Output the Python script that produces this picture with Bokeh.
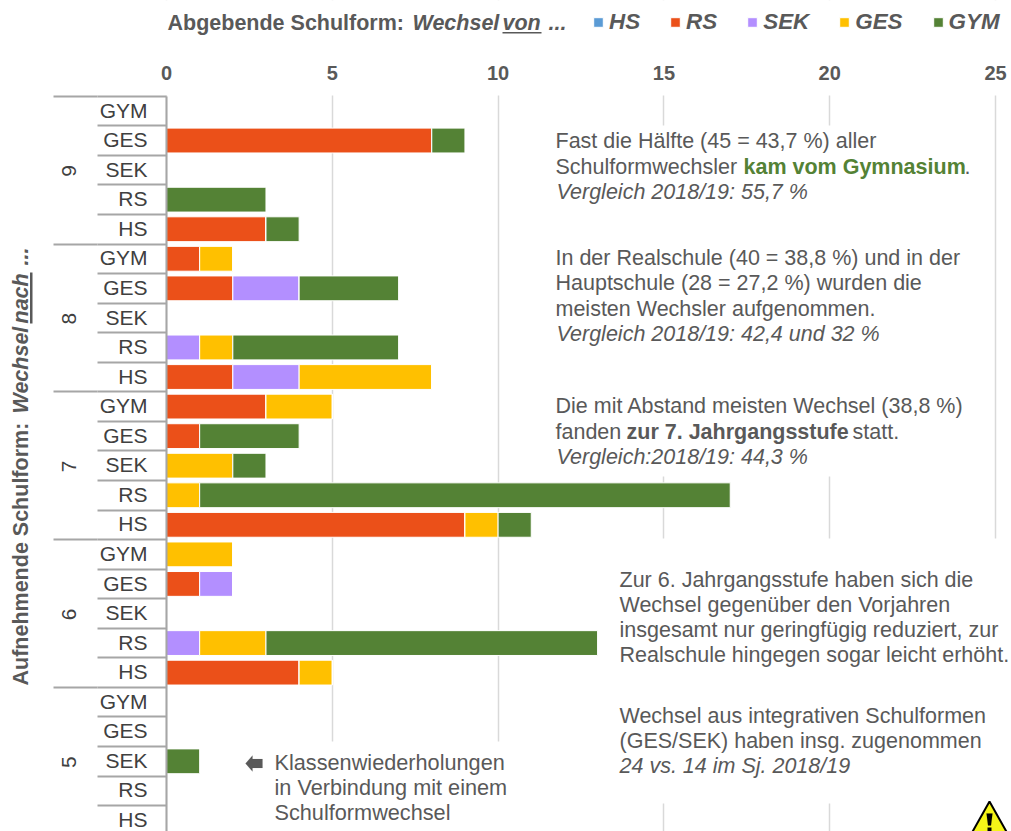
from bokeh.plotting import figure
from bokeh.models import (ColumnDataSource, Range1d, FixedTicker, LinearAxis, Label,
                          BoxAnnotation, PolyAnnotation)
from bokeh.embed import file_html
from bokeh.resources import INLINE
import math

grades = ["9", "8", "7", "6", "5"]
forms = ["GYM", "GES", "SEK", "RS", "HS"]
series = ["HS", "RS", "SEK", "GES", "GYM"]
colors = ["#5B9BD5", "#EB5019", "#B38FFF", "#FFC000", "#548235"]
x_ticks = [0, 5, 10, 15, 20, 25]

# rows top to bottom: 9 GYM,GES,SEK,RS,HS / 8 ... / 7 ... / 6 ... / 5 ...
HS = [0]*25
RS = [0,8,0,0,3,  1,2,0,0,2,  3,1,0,0,9,  0,1,0,0,4,  0,0,0,0,0]
SEK = [0,0,0,0,0, 0,2,0,1,2,  0,0,0,0,0,  0,1,0,1,0,  0,0,0,0,0]
GES = [0,0,0,0,0, 1,0,0,1,4,  2,0,2,1,1,  2,0,0,2,1,  0,0,0,0,0]
GYM = [0,1,0,3,1, 0,3,0,5,0,  0,3,1,16,1, 0,0,0,10,0, 0,0,1,0,0]

TEXT = "#595959"
DARK = "#404040"
FONT = "Liberation Sans"
AXIS = "#A6A6A6"
FS = "21.5px"

W, H = 1011, 831
X0 = 166.0           # page px of value 0
UNIT = (995 - 166) / 25
Y0 = 95.7            # page px of top row edge
ROW = 29.56
n = len(grades) * len(forms)

row_centers = [i + 0.5 for i in range(n)]
row_edges = list(range(n + 1))
group_edges = [i * 5 for i in range(6)]
# label ticks, nudged to sit the text where the reference has it
row_label_ticks = [round(i + 0.47, 3) for i in range(n)]
group_label_ticks = [round(i * 5 + 2.33, 3) for i in range(5)]

p = figure(width=W, height=H, output_backend="svg", toolbar_location=None,
           x_range=Range1d(-X0 / UNIT, (W - X0) / UNIT),
           y_range=Range1d((H - Y0) / ROW, -Y0 / ROW),
           x_axis_location=None, y_axis_location=None,
           min_border_left=0, min_border_right=0, min_border_top=0, min_border_bottom=0)
p.outline_line_color = None
p.background_fill_color = "white"

p.ygrid.visible = False
p.xgrid.ticker = FixedTicker(ticks=x_ticks)
p.xgrid.grid_line_color = "#D9D9D9"
p.xgrid.grid_line_width = 1.5

src = ColumnDataSource(dict(y=row_centers, HS=HS, RS=RS, SEK=SEK, GES=GES, GYM=GYM))
p.hbar_stack(series, y="y", height=0.84, color=colors, line_color="white", line_width=1,
             source=src, legend_label=series)

# x axis
xa = LinearAxis(ticker=FixedTicker(ticks=x_ticks), fixed_location=0)
xa.axis_line_color = None
xa.major_tick_line_color = None
xa.minor_tick_line_color = None
xa.major_label_text_font = FONT
xa.major_label_text_font_size = "20px"
xa.major_label_text_font_style = "bold"
xa.major_label_text_color = TEXT
xa.major_label_standoff = 10
p.add_layout(xa, "above")

# inner y axis: school forms
ya = LinearAxis(ticker=FixedTicker(ticks=row_label_ticks, minor_ticks=row_edges), fixed_location=0,
                bounds=(0, n))
ya.major_label_overrides = {c: forms[i % 5] for i, c in enumerate(row_label_ticks)}
ya.major_tick_out = 0
ya.major_tick_in = 0
ya.major_tick_line_color = None
ya.minor_tick_out = 69
ya.minor_tick_in = 0
ya.minor_tick_line_color = AXIS
ya.minor_tick_line_width = 2
ya.axis_line_color = AXIS
ya.axis_line_width = 2
ya.major_label_text_font = FONT
ya.major_label_text_font_size = "21px"
ya.major_label_text_color = DARK
ya.major_label_standoff = -50
p.add_layout(ya, "left")

# outer y axis: grades
yb = LinearAxis(ticker=FixedTicker(ticks=group_label_ticks, minor_ticks=group_edges),
                fixed_location=-69 / UNIT, bounds=(0, n))
yb.major_label_overrides = {c: grades[i] for i, c in enumerate(group_label_ticks)}
yb.major_tick_out = 0
yb.major_tick_in = 0
yb.major_tick_line_color = None
yb.minor_tick_out = 44
yb.minor_tick_in = 0
yb.minor_tick_line_color = AXIS
yb.minor_tick_line_width = 2
yb.axis_line_color = None
yb.major_label_orientation = math.pi / 2
yb.major_label_text_font = FONT
yb.major_label_text_font_size = "21px"
yb.major_label_text_color = DARK
yb.major_label_standoff = -16
p.add_layout(yb, "left")


def sy(y):
    return H - y


def box(l, t, r, b, color="white", level="underlay"):
    p.add_layout(BoxAnnotation(left=l, right=r, top=sy(t), bottom=sy(b),
                               left_units="screen", right_units="screen",
                               top_units="screen", bottom_units="screen",
                               fill_color=color, fill_alpha=1, line_alpha=0, line_width=0,
                               level=level))


def poly(pts, fill, line=None, lw=0):
    p.add_layout(PolyAnnotation(xs=[a for a, _ in pts], ys=[sy(b) for _, b in pts],
                                xs_units="screen", ys_units="screen",
                                fill_color=fill, fill_alpha=1,
                                line_color=line if line else fill, line_width=lw or 0.1, line_alpha=1))


def label(x, y, text, style="normal", color=TEXT, size=FS, angle=0.0, baseline="middle"):
    p.add_layout(Label(x=x, y=sy(y), x_units="screen", y_units="screen", text=text,
                       text_font=FONT, text_font_size=size, text_font_style=style,
                       text_color=color, text_baseline=baseline, text_align="left",
                       angle=angle, angle_units="rad"))


# white backgrounds hiding the gridlines
box(0, 0, W, 95)
box(545, 125, 985, 476)
box(605, 538, W, 803)
box(240, 741, 525, H)
box(968, 800, W, H)

# title and legend
label(167, 22, "Abgebende Schulform:", "bold")
label(412, 22, "Wechsel", "bold italic")
label(502, 22, "von", "bold italic")
box(502, 31.5, 541, 33, TEXT, "annotation")
label(548, 22, "...", "bold italic")

leg = p.legend[0]
leg.orientation = "horizontal"
leg.location = (592, sy(35))
leg.background_fill_alpha = 0
leg.border_line_color = None
leg.padding = 0
leg.margin = 0
leg.spacing = 29
leg.glyph_width = 12
leg.glyph_height = 12
leg.label_standoff = 5
leg.label_text_font = FONT
leg.label_text_font_size = "22.4px"
leg.label_text_font_style = "bold italic"
leg.label_text_color = TEXT

# y title
R = math.pi / 2
label(20, 685, "Aufnehmende Schulform:", "bold", angle=R, baseline="alphabetic")
label(20, 413, "Wechsel", "bold italic", angle=R, baseline="alphabetic")
label(20, 323, "nach", "bold italic", angle=R, baseline="alphabetic")
box(29.5, 272, 32, 323, TEXT, "annotation")
label(20, 265, "...", "bold italic", angle=R, baseline="alphabetic")

# notes
GREEN = "#548235"
label(555, 140, "Fast die Hälfte (45 = 43,7 %) aller")
label(555, 166, "Schulformwechsler")
label(743, 166, "kam vom Gymnasium", "bold", GREEN)
label(964, 166, ".")
label(556, 191, "Vergleich 2018/19: 55,7 %", "italic")

label(555, 257, "In der Realschule (40 = 38,8 %) und in der")
label(555, 282, "Hauptschule (28 = 27,2 %) wurden die")
label(555, 308, "meisten Wechsler aufgenommen.")
label(556, 333, "Vergleich 2018/19: 42,4 und 32 %", "italic")

label(555, 405, "Die mit Abstand meisten Wechsel (38,8 %)")
label(555, 431, "fanden")
label(626, 431, "zur 7. Jahrgangsstufe", "bold")
label(852, 431, "statt.")
label(556, 456, "Vergleich:2018/19: 44,3 %", "italic")

label(619, 579, "Zur 6. Jahrgangsstufe haben sich die")
label(619, 604, "Wechsel gegenüber den Vorjahren")
label(619, 629, "insgesamt nur geringfügig reduziert, zur")
label(619, 654, "Realschule hingegen sogar leicht erhöht.")

label(619, 715, "Wechsel aus integrativen Schulformen")
label(619, 740, "(GES/SEK) haben insg. zugenommen")
label(619, 765, "24 vs. 14 im Sj. 2018/19", "italic")

label(274, 762, "Klassenwiederholungen", size="21.7px")
label(274, 787, "in Verbindung mit einem", size="21.7px")
label(274, 812, "Schulformwechsel", size="21.7px")

# arrow
poly([(245, 763), (252, 755), (252, 758.5), (262, 758.5), (262, 767.5), (252, 767.5), (252, 771)], TEXT)

# warning sign
poly([(989, 801), (1007, 833), (971, 833)], "#F5F518", "#000000", 2)
poly([(986, 813), (992, 813), (990.5, 825), (987.5, 825)], "#000000")
box(987, 827, 991, 831, "#000000", "annotation")

open("out.html", "w").write(file_html(p, INLINE))
